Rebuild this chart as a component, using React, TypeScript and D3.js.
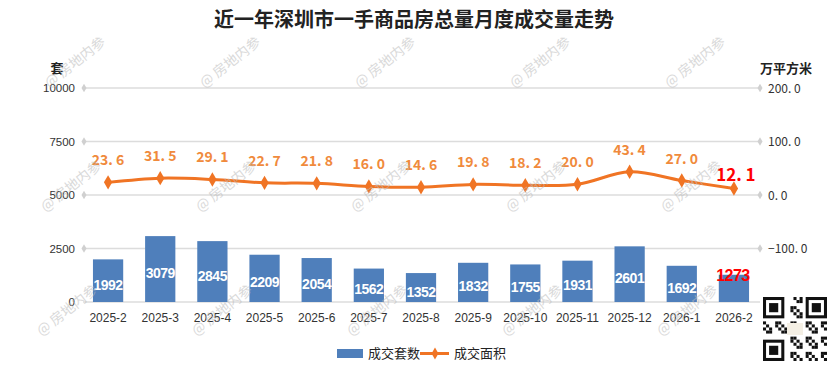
import React from 'react';
import * as d3 from 'd3';

const months = ['2025-2', '2025-3', '2025-4', '2025-5', '2025-6', '2025-7', '2025-8', '2025-9', '2025-10', '2025-11', '2025-12', '2026-1', '2026-2'];
const units = [1992, 3079, 2845, 2209, 2054, 1562, 1352, 1832, 1755, 1931, 2601, 1692, 1273];
const area = [23.6, 31.5, 29.1, 22.7, 21.8, 16.0, 14.6, 19.8, 18.2, 20.0, 43.4, 27.0, 12.1];
const leftTicks = [0, 2500, 5000, 7500, 10000];
const rightTicks = [-100, 0, 100, 200];

const W = 829, H = 384;
const FONT = '"Noto Sans CJK SC", "Microsoft YaHei", sans-serif';
const NUM = '"Liberation Sans", Arial, sans-serif';
const BAR = '#4f7fbb';
const LINE = '#f07424';

// spaced decimal like the source ("23. 6")
const fmt = (v: number) => d3.format('.1f')(v).replace('.', '. ');

function QrMark({ x, y, s }: { x: number; y: number; s: number }) {
  const n = 21, c = s / n;
  const cells = [];
  for (let i = 0; i < n; i++) {
    for (let j = 0; j < n; j++) {
      const inFinder = (i < 8 && j < 8) || (i < 8 && j > 12) || (i > 12 && j < 8);
      if (inFinder) continue;
      if (((i * 7 + j * 13 + i * j) % 5) < 2) {
        cells.push(<rect key={i + '-' + j} x={x + j * c} y={y + i * c} width={c} height={c} fill="#111" />);
      }
    }
  }
  const finder = (fx: number, fy: number, k: string) => (
    <g key={k}>
      <rect x={x + fx * c} y={y + fy * c} width={7 * c} height={7 * c} fill="#111" />
      <rect x={x + (fx + 1) * c} y={y + (fy + 1) * c} width={5 * c} height={5 * c} fill="#fff" />
      <rect x={x + (fx + 2) * c} y={y + (fy + 2) * c} width={3 * c} height={3 * c} fill="#111" />
    </g>
  );
  return (
    <g>
      <rect x={x} y={y} width={s} height={s} fill="#fff" />
      {cells}
      {finder(0, 0, 'a')}
      {finder(14, 0, 'b')}
      {finder(0, 14, 'c')}
      <rect x={x + s / 2 - 8} y={y + s / 2 - 6} width={16} height={12} fill="#f4efe4" />
    </g>
  );
}

export default function App() {
  const x = d3.scaleBand().domain(months).range([82, 760]).paddingInner(0.42).paddingOuter(0.21);
  const yL = d3.scaleLinear().domain([0, 10000]).range([302, 88]);
  const yR = d3.scaleLinear().domain([-200, 200]).range([302, 88]);
  const cx = (m: string) => (x(m) as number) + x.bandwidth() / 2;

  const line = d3.line<number>()
    .x((d, i) => cx(months[i]))
    .y((d) => yR(d))
    .curve(d3.curveCatmullRom.alpha(0.5));

  const diamond = d3.symbol().type(d3.symbolDiamond).size(60)();
  const tickDiamond = d3.symbol().type(d3.symbolDiamond).size(22)();
  const last = months.length - 1;

  // watermark grid
  const marks = [];
  for (let r = 0; r < 3; r++) {
    for (let k = 0; k < 5; k++) {
      marks.push({ x: 78 + k * 155 - r * 4, y: 66 + r * 124 });
    }
  }

  return (
    <div style={{ position: 'absolute', left: 0, top: 0 }}>
      <svg width={W} height={H} style={{ display: 'block', background: '#fff', fontFamily: FONT }}>
        <text x={414} y={27} textAnchor="middle" fontSize={20} fontWeight="bold" fill="#222">近一年深圳市一手商品房总量月度成交量走势</text>

        <text x={57} y={73} textAnchor="middle" fontSize={13} fontWeight="bold" fill="#222">套</text>
        <text x={786} y={73} textAnchor="middle" fontSize={13} fontWeight="bold" fill="#222">万平方米</text>

        {leftTicks.map((t) => (
          <g key={'g' + t}>
            <line x1={83} x2={760} y1={yL(t)} y2={yL(t)} stroke="#dcdcdc" strokeWidth={1.5} />
            <text x={75} y={yL(t) + 4} textAnchor="end" fontSize={11.5} fontFamily={NUM} fill="#333">{t}</text>
            {t > 0 && <path d={tickDiamond as string} transform={`translate(84,${yL(t)})`} fill="#d0d0d0" />}
          </g>
        ))}
        {rightTicks.map((t) => (
          <g key={'r' + t}>
            <path d={tickDiamond as string} transform={`translate(760,${yR(t)})`} fill="#d0d0d0" />
            <text x={768} y={yR(t) + 4.5} fontSize={12} fill="#333">{fmt(t)}</text>
          </g>
        ))}

        {units.map((v, i) => (
          <rect key={'b' + i} x={x(months[i])} y={yL(v)} width={x.bandwidth()} height={yL(0) - yL(v)} fill={BAR} />
        ))}
        {units.map((v, i) => i === last ? (
          <text key={'bl' + i} x={cx(months[i]) - 1} y={yL(v) + 6} textAnchor="middle" fontSize={16} fontFamily={NUM} letterSpacing={-0.6} fontWeight="bold" fill="#ff0000">{v}</text>
        ) : (
          <text key={'bl' + i} x={cx(months[i])} y={(yL(v) + yL(0)) / 2 + 9} textAnchor="middle" fontSize={14} fontFamily={NUM} letterSpacing={-0.5} fontWeight="bold" fill="#fff">{v}</text>
        ))}

        {months.map((m) => (
          <text key={'x' + m} x={cx(m)} y={322} textAnchor="middle" fontSize={12} fontFamily={NUM} fill="#333">{m}</text>
        ))}

        <path d={line(area) as string} fill="none" stroke={LINE} strokeWidth={3} />
        {area.map((v, i) => (
          <path key={'d' + i} d={diamond as string} transform={`translate(${cx(months[i])},${yR(v)})`} fill={LINE} />
        ))}
        {area.map((v, i) => i === last ? (
          <text key={'al' + i} x={cx(months[i]) + 2} y={yR(v) - 8} textAnchor="middle" fontSize={17} fontWeight="bold" fill="#ff0000">{fmt(v)}</text>
        ) : (
          <text key={'al' + i} x={cx(months[i])} y={yR(v) - 17} textAnchor="middle" fontSize={14} fontWeight="bold" fill="#f08a3c">{fmt(v)}</text>
        ))}

        <rect x={337} y={349} width={26} height={9} fill={BAR} />
        <text x={368} y={358} fontSize={13} fill="#222">成交套数</text>
        <line x1={420} x2={449} y1={353.5} y2={353.5} stroke={LINE} strokeWidth={3} />
        <path d={d3.symbol().type(d3.symbolDiamond).size(40)() as string} transform="translate(435,353.5)" fill={LINE} />
        <text x={454} y={358} fontSize={13} fill="#222">成交面积</text>

        {marks.map((p, i) => (
          <text key={'w' + i} x={p.x} y={p.y} fontSize={14} fill="#bbb" opacity={0.55}
            transform={`rotate(-38,${p.x},${p.y})`} textAnchor="middle">@ 房地内参</text>
        ))}

        <QrMark x={763} y={297} s={64} />
      </svg>
    </div>
  );
}
